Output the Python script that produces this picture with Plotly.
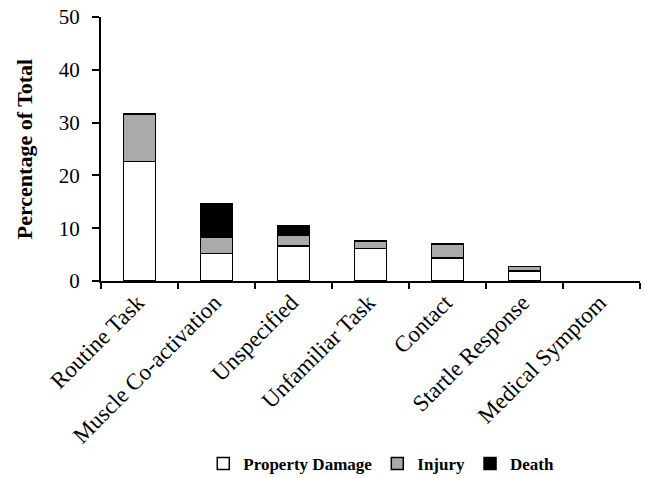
import plotly.graph_objects as go

categories = [
    "Routine Task",
    "Muscle Co-activation",
    "Unspecified",
    "Unfamiliar Task",
    "Contact",
    "Startle Response",
    "Medical Symptom",
]
property_damage = [22.6, 5.2, 6.6, 6.2, 4.4, 1.9, 0.0]
injury = [9.05, 3.0, 2.05, 1.4, 2.6, 0.85, 0.0]
death = [0.0, 6.4, 1.75, 0.0, 0.0, 0.0, 0.0]
y_ticks = [0, 10, 20, 30, 40, 50]

SERIF = "Liberation Serif, Times New Roman, serif"

fig = go.Figure()
for name, vals, color in [
    ("Property Damage", property_damage, "white"),
    ("Injury", injury, "#aaaaaa"),
    ("Death", death, "black"),
]:
    # zero-height segments would still draw their outline, so leave them out
    fig.add_trace(
        go.Bar(
            x=categories,
            y=[v if v > 0 else None for v in vals],
            name=name,
            width=0.41,
            marker=dict(color=color, line=dict(color="black", width=1.5)),
        )
    )

fig.update_layout(
    width=645,
    height=477,
    barmode="stack",
    plot_bgcolor="white",
    paper_bgcolor="white",
    margin=dict(l=101, r=5, t=17, b=196, autoexpand=False),
    font=dict(family=SERIF, size=20, color="black"),
    showlegend=True,
    legend=dict(
        orientation="h",
        x=0.52,
        xanchor="center",
        y=-0.625,
        yanchor="top",
        font=dict(family=SERIF, size=17, color="black", weight="bold"),
        itemwidth=30,
        traceorder="normal",
    ),
    xaxis=dict(
        showline=True,
        linecolor="black",
        linewidth=2,
        ticks="outside",
        tickson="boundaries",
        ticklen=6,
        tickwidth=1.5,
        tickcolor="black",
        tickangle=-45,
        tickfont=dict(family=SERIF, size=23),
        ticklabelstandoff=-3,
        ticklabelshift=-2,
        showgrid=False,
        automargin=False,
    ),
    yaxis=dict(
        range=[0, 50],
        tickvals=y_ticks,
        showline=True,
        linecolor="black",
        linewidth=2,
        ticks="outside",
        ticklen=7,
        tickwidth=1.5,
        tickcolor="black",
        showgrid=False,
        zeroline=False,
        automargin=False,
        tickfont=dict(family=SERIF, size=21),
        ticklabelstandoff=8,
        title=dict(
            text="<b>Percentage of Total</b>",
            font=dict(family=SERIF, size=22),
            standoff=20,
        ),
    ),
)

# the page body has a default 8px margin; drop it so the figure fills the window
fig.write_html(
    "out.html",
    config={"displayModeBar": False},
    post_script="document.body.style.margin = '0';",
)
